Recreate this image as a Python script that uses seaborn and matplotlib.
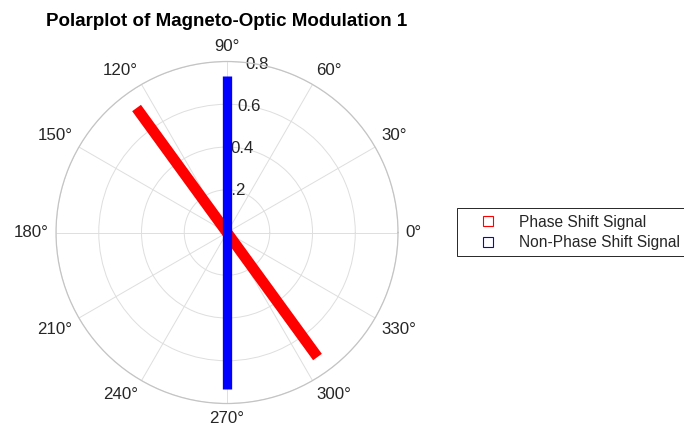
import numpy as np
import pandas as pd
import matplotlib
matplotlib.use("Agg")
import matplotlib.pyplot as plt
from matplotlib.lines import Line2D
import seaborn as sns

# ---- data -------------------------------------------------------------
title = "Polarplot of Magneto-Optic Modulation 1"
series_names = ["Phase Shift Signal", "Non-Phase Shift Signal"]
series_colors = ["#ff0000", "#0000ff"]
series_widths = [7.8, 6.7]
phase_deg = [126.0, 90.0]      # orientation of each signal
amplitude = [0.72, 0.73]       # magnitude of each signal
r_ticks = [0.2, 0.4, 0.6, 0.8]
r_tick_labels = ["0.2", "0.4", "0.6", "0.8"]
r_max = 0.8
theta_ticks = list(range(0, 360, 30))
theta_labels = [f"{t}°" for t in theta_ticks]

# ---- style ------------------------------------------------------------
sns.set_style("white")
plt.rcParams["font.family"] = ["Liberation Sans", "DejaVu Sans"]
text_color = "#262626"
tick_fs = 12.2

# Each signal is drawn as a diameter: out to +amplitude along its phase,
# back through the origin and out to the opposite direction.
rows = []
for name, ph, amp in zip(series_names, phase_deg, amplitude):
    t1 = np.deg2rad(ph)
    t2 = t1 + np.pi
    for order, (t, r) in enumerate([(t1, amp), (t1, 0.0), (t2, 0.0), (t2, amp)]):
        rows.append({"signal": name, "theta": t, "r": r, "order": order})
df = pd.DataFrame(rows)

fig = plt.figure(figsize=(6.84, 4.36), dpi=100)
ax = fig.add_axes([0.0819, 0.0745, 0.5, 0.7844], projection="polar")

sns.lineplot(
    data=df, x="theta", y="r", hue="signal", size="signal",
    hue_order=series_names, size_order=series_names,
    palette=dict(zip(series_names, series_colors)),
    sizes=dict(zip(series_names, series_widths)),
    estimator=None, sort=False, legend=False,
    solid_capstyle="butt", solid_joinstyle="miter",
    ax=ax,
)
ax.set_xlabel("")
ax.set_ylabel("")

# ---- polar frame ------------------------------------------------------
ax.set_ylim(0, r_max)
ax.set_rticks(r_ticks)
ax.set_yticklabels(r_tick_labels)
ax.set_rlabel_position(80)
ax.set_thetagrids(theta_ticks, theta_labels)
ax.grid(True, color="#dedede", linewidth=0.7)
ax.spines["polar"].set_color("#c4c4c4")
ax.spines["polar"].set_linewidth(0.9)

ax.tick_params(axis="x", pad=-1.7, labelsize=tick_fs, labelcolor=text_color, length=0)
ax.tick_params(axis="y", labelsize=tick_fs, labelcolor=text_color, length=0)

for tick, deg in zip(ax.xaxis.get_major_ticks(), theta_ticks):
    c, s = np.cos(np.deg2rad(deg)), np.sin(np.deg2rad(deg))
    ha = "center" if abs(c) < 0.01 else ("left" if c > 0 else "right")
    va = "center" if abs(s) < 0.01 else ("bottom" if s > 0 else "top")
    tick.label1.set_horizontalalignment(ha)
    tick.label1.set_verticalalignment(va)

for lbl in ax.get_yticklabels():
    lbl.set_horizontalalignment("center")
    lbl.set_verticalalignment("center")

ax.set_title(title, y=1.105, pad=0, fontsize=13.5, fontweight="bold", color="black")

# ---- legend -----------------------------------------------------------
handles = [
    Line2D([], [], linestyle="none", marker="s", markersize=6.5,
           markerfacecolor="none", markeredgecolor=col, markeredgewidth=0.8)
    for col in series_colors
]
leg = fig.legend(
    handles, series_names,
    loc="upper left", bbox_to_anchor=(456.7 / 684, 1 - 208.3 / 436),
    borderaxespad=0, borderpad=0.4, handlelength=3.18, handletextpad=0.4,
    labelspacing=0.35, fontsize=11.2, frameon=True, fancybox=False,
    framealpha=1, edgecolor=text_color,
)
leg.get_frame().set_linewidth(0.7)
for t in leg.get_texts():
    t.set_color(text_color)

fig.savefig("out.png", dpi=100)
